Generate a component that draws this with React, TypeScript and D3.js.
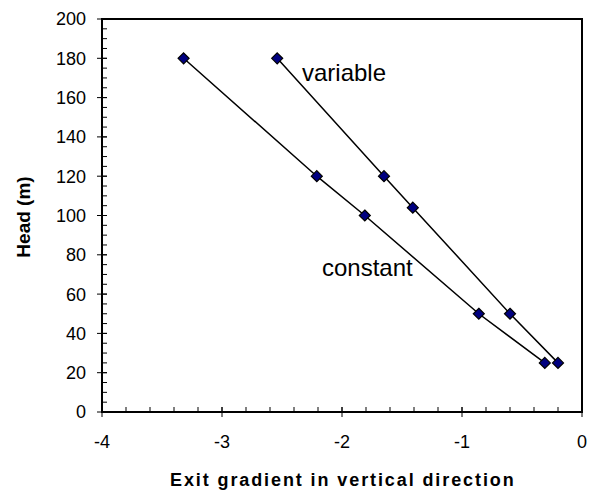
import React from "react";
import * as d3 from "d3";

const constantX = [-3.32, -2.21, -1.81, -0.86, -0.31];
const constantY = [180, 120, 100, 50, 25];
const variableX = [-2.54, -1.65, -1.41, -0.6, -0.2];
const variableY = [180, 120, 104, 50, 25];
const xTicks = [-4, -3, -2, -1, 0];
const yTicks = [0, 20, 40, 60, 80, 100, 120, 140, 160, 180, 200];
const seriesLabels = ["constant", "variable"];

const W = 595, H = 490;
const L = 102, R = 582, T = 19, B = 412;

export default function App() {
  const x = d3.scaleLinear().domain([-4, 0]).range([L, R]);
  const y = d3.scaleLinear().domain([0, 200]).range([B, T]);
  const line = d3.line<[number, number]>().x(d => x(d[0])).y(d => y(d[1]));
  const series = [
    constantX.map((v, i) => [v, constantY[i]] as [number, number]),
    variableX.map((v, i) => [v, variableY[i]] as [number, number]),
  ];
  const xMinor = d3.range(-4, 0.0001, 0.2);
  const yMinor = d3.range(0, 200.0001, 5);
  const font = "Liberation Sans, Arial, sans-serif";
  const diamond = (cx: number, cy: number) =>
    `M${cx},${cy - 5.5}L${cx + 5.5},${cy}L${cx},${cy + 5.5}L${cx - 5.5},${cy}Z`;
  return (
    <svg width={W} height={H} style={{ position: "absolute", left: 0, top: 0, background: "#fff" }}>
      <rect x={L} y={T} width={R - L} height={B - T} fill="none" stroke="#000" strokeWidth={2} />
      {yMinor.map((v, i) => (
        <line key={"ym" + i} x1={L} x2={L + 5} y1={y(v)} y2={y(v)} stroke="#000" strokeWidth={1} />
      ))}
      {xMinor.map((v, i) => (
        <line key={"xm" + i} x1={x(v)} x2={x(v)} y1={B} y2={B - 5} stroke="#000" strokeWidth={1} />
      ))}
      {yTicks.map(v => (
        <g key={"yt" + v}>
          <line x1={L - 5} x2={L + 5} y1={y(v)} y2={y(v)} stroke="#000" strokeWidth={1} />
          <text x={86} y={y(v)} dy="0.36em" textAnchor="end" fontFamily={font} fontSize={18}>{v}</text>
        </g>
      ))}
      {xTicks.map(v => (
        <g key={"xt" + v}>
          <line x1={x(v)} x2={x(v)} y1={B - 5} y2={B + 5} stroke="#000" strokeWidth={1} />
          <text x={x(v)} y={448} textAnchor="middle" fontFamily={font} fontSize={18}>{v}</text>
        </g>
      ))}
      {series.map((s, i) => (
        <path key={"l" + i} d={line(s) || ""} fill="none" stroke="#000" strokeWidth={1.5} />
      ))}
      {series.map((s, i) =>
        s.map((p, j) => (
          <path key={"m" + i + "-" + j} d={diamond(x(p[0]), y(p[1]))} fill="#000080" stroke="#000" strokeWidth={1.2} />
        ))
      )}
      <text x={302} y={81} fontFamily={font} fontSize={24}>{seriesLabels[1]}</text>
      <text x={322} y={276} fontFamily={font} fontSize={24}>{seriesLabels[0]}</text>
      <text x={170} y={486} fontFamily={font} fontSize={18} fontWeight="bold" letterSpacing={1.9}>
        Exit gradient in vertical direction
      </text>
      <text transform={`translate(30,217) rotate(-90)`} textAnchor="middle" fontFamily={font} fontSize={19} fontWeight="bold">
        Head (m)
      </text>
    </svg>
  );
}
